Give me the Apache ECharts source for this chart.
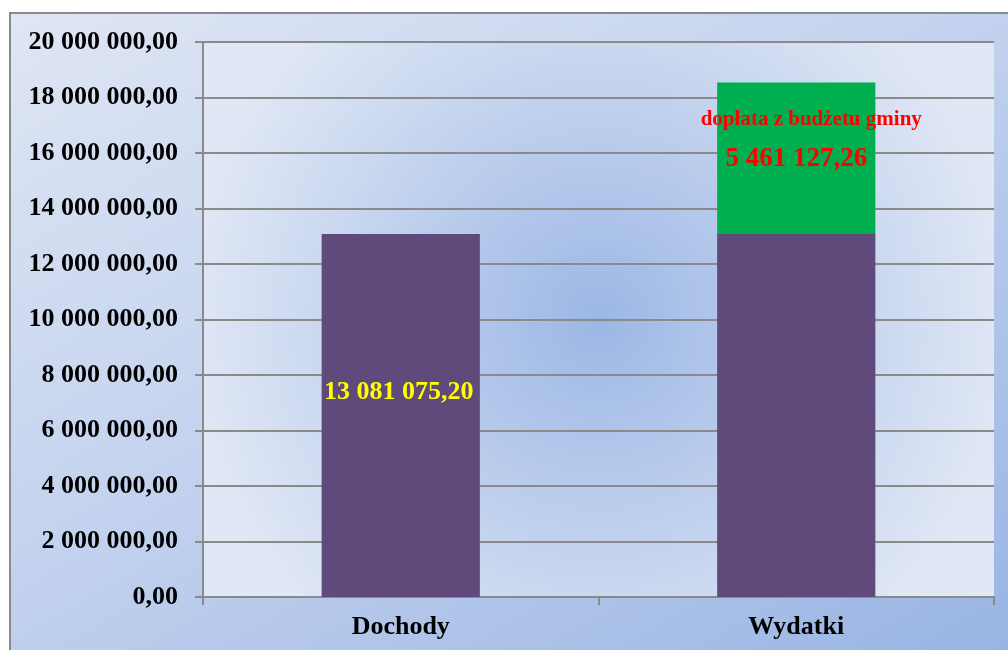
<!DOCTYPE html>
<html>
<head>
<meta charset="utf-8">
<script src="https://cdn.jsdelivr.net/npm/echarts@6/dist/echarts.min.js"></script>
<style>
  html, body { margin: 0; padding: 0; background: #fff; }
  #frame {
    position: absolute; left: 9px; top: 12px; width: 1010px; height: 660px;
    border: 2px solid #8a8a8a;
    background: linear-gradient(150deg, #dfe6f4 0%, #c3d2ee 45%, #97b3e3 100%);
  }
  #main { position: absolute; left: 0; top: 0; width: 1008px; height: 650px; }
</style>
</head>
<body>
<div id="frame"></div>
<div id="main"></div>
<script>
// dane z wykresu
var categories = ["Dochody", "Wydatki"];
var dochody = [13081075.20, 13081075.20];
var doplata = [null, 5461127.26];
var doplataTitle = "dopłata z budżetu gminy";

// format polski: 13 081 075,20
function fmt(v) {
  var parts = Number(v).toFixed(2).split(".");
  var int = parts[0].replace(/\B(?=(\d{3})+(?!\d))/g, " ");
  return int + "," + parts[1];
}

var serif = "'Liberation Serif', 'DejaVu Serif', serif";

var myChart = echarts.init(document.getElementById("main"));

var option = {
  backgroundColor: "transparent",
  animation: false,
  textStyle: { fontFamily: serif },
  grid: {
    left: 203,
    right: 14,
    top: 42,
    bottom: 53,
    show: true,
    borderWidth: 0,
    backgroundColor: {
      type: "radial", x: 0.5, y: 0.5, r: 0.75,
      colorStops: [
        { offset: 0, color: "#9cb7e5" },
        { offset: 1, color: "#e1e8f5" }
      ]
    }
  },
  xAxis: {
    type: "category",
    data: categories,
    axisLine: { lineStyle: { color: "#8a8a8a", width: 2 } },
    axisTick: { show: true, length: 8, lineStyle: { color: "#8a8a8a", width: 2 } },
    axisLabel: {
      margin: 17,
      color: "#000",
      fontFamily: serif,
      fontWeight: "bold",
      fontSize: 26
    }
  },
  yAxis: {
    type: "value",
    min: 0,
    max: 20000000,
    interval: 2000000,
    axisLine: { show: true, lineStyle: { color: "#8a8a8a", width: 2 } },
    axisTick: { show: true, length: 8, lineStyle: { color: "#8a8a8a", width: 2 } },
    splitLine: { lineStyle: { color: "#8a8a8a", width: 2 } },
    axisLabel: {
      margin: 25,
      color: "#000",
      fontFamily: serif,
      fontWeight: "bold",
      fontSize: 26,
      formatter: fmt
    }
  },
  series: [
    {
      name: "Dochody",
      type: "bar",
      stack: "s",
      barWidth: "40%",
      data: dochody,
      itemStyle: { color: "#604a7b" },
      label: {
        show: true,
        position: "inside",
        offset: [-2, -23],
        color: "#ffff00",
        fontFamily: serif,
        fontWeight: "bold",
        fontSize: 26,
        formatter: function (p) {
          return p.dataIndex === 0 ? fmt(p.value) : "";
        }
      }
    },
    {
      name: "Dopłata",
      type: "bar",
      stack: "s",
      barWidth: "40%",
      data: doplata,
      itemStyle: { color: "#00b050" },
      label: {
        show: true,
        position: "inside",
        offset: [0, -19],
        fontFamily: serif,
        fontWeight: "bold",
        formatter: function (p) {
          return "{a|" + doplataTitle + "}\n{b|" + fmt(p.value) + "}";
        },
        rich: {
          a: { color: "#ff0000", fontSize: 21, fontWeight: "bold", fontFamily: serif, lineHeight: 40, padding: [0, 0, 0, 30] },
          b: { color: "#ff0000", fontSize: 27, fontWeight: "bold", fontFamily: serif, lineHeight: 40 }
        }
      }
    }
  ]
};

myChart.setOption(option);
</script>
</body>
</html>
